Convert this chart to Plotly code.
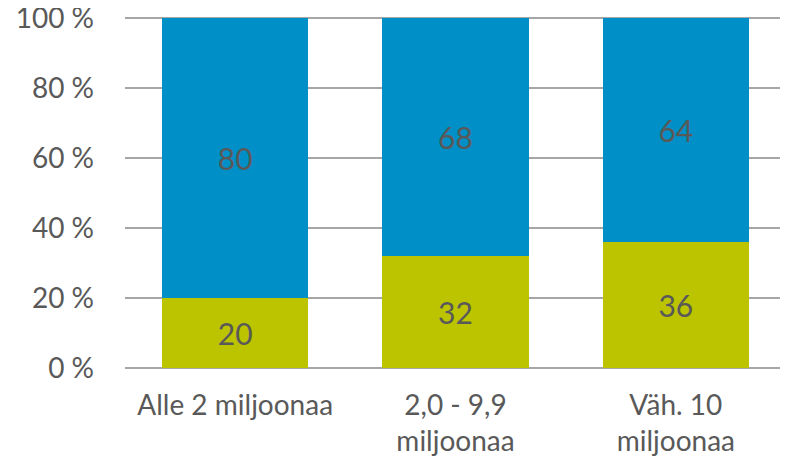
import plotly.graph_objects as go

categories = ["Alle 2 miljoonaa", "2,0 - 9,9<br>miljoonaa", "Väh. 10<br>miljoonaa"]
green_values = [20, 32, 36]
blue_values = [80, 68, 64]
tick_vals = [0, 20, 40, 60, 80, 100]
tick_text = ["0 %", "20 %", "40 %", "60 %", "80 %", "100 %"]

FONT = "Lato, Carlito, Open Sans, sans-serif"
TXT = "#595959"

fig = go.Figure()
fig.add_trace(go.Bar(
    x=categories, y=green_values, marker=dict(color="#BCC400", line=dict(width=0)),
    text=[str(v) for v in green_values], textposition="inside", insidetextanchor="middle",
    textfont=dict(family=FONT, size=30, color=TXT), constraintext="none",
))
fig.add_trace(go.Bar(
    x=categories, y=blue_values, marker=dict(color="#008FC6", line=dict(width=0)),
    text=[str(v) for v in blue_values], textposition="inside", insidetextanchor="middle",
    textfont=dict(family=FONT, size=30, color=TXT), constraintext="none",
))
fig.update_layout(
    barmode="stack", bargap=0.336, showlegend=False,
    width=780, height=458,
    margin=dict(l=117, r=2, t=8, b=98, autoexpand=False),
    paper_bgcolor="white", plot_bgcolor="white",
    font=dict(family=FONT, size=28, color=TXT),
    uniformtext=dict(mode=False),
)
fig.update_yaxes(
    range=[0, 100.57], tickvals=tick_vals, ticktext=tick_text,
    showgrid=True, gridcolor="#A6A6A6", gridwidth=1.5,
    zeroline=True, zerolinecolor="#A6A6A6", zerolinewidth=1.5,
    ticks="", ticklabelstandoff=30, ticklabeloverflow="allow", automargin=False,
    tickfont=dict(family=FONT, size=28, color=TXT),
)
fig.update_xaxes(
    showgrid=False, ticks="", tickfont=dict(family=FONT, size=28, color=TXT),
    ticklabelstandoff=18, automargin=False,
)
fig.write_html("out.html")
